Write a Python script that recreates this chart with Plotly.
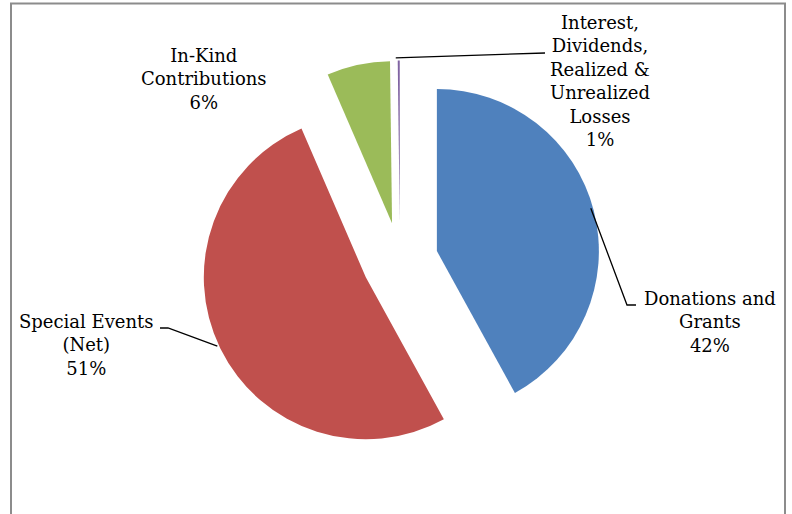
import math
import plotly.graph_objects as go

# ---- data ----
labels = ["Donations and Grants", "Special Events (Net)", "In-Kind Contributions",
          "Interest, Dividends, Realized & Unrealized Losses"]
values = [42.0, 51.5, 6.3, 0.2]
pct_labels = ["42%", "51%", "6%", "1%"]
label_lines = [["Donations and", "Grants"],
               ["Special Events", "(Net)"],
               ["In-Kind", "Contributions"],
               ["Interest,", "Dividends,", "Realized &", "Unrealized", "Losses"]]
colors = ["#4F81BD", "#C0504D", "#9BBB59", "#8064A2"]

# ---- layout geometry (pixels) ----
W, H = 792, 514
CX, CY = 400, 260.5
R = 162
PULL = 0.235
HALF = R * (1 + PULL)

def px(x):
    return x / W

def py(y):
    return 1 - y / H

fig = go.Figure(go.Pie(
    labels=labels, values=values, sort=False, direction="clockwise", rotation=0,
    marker=dict(colors=colors, line=dict(width=0)),
    pull=[PULL] * len(values), textinfo="none", hoverinfo="label+percent",
    showlegend=False,
    domain=dict(x=[px(CX - HALF), px(CX + HALF)], y=[py(CY + HALF), py(CY - HALF)]),
))

# bisector points on the outer arc of each (pulled) slice
total = sum(values)
cum = 0
arc_pts = []
for v in values:
    mid = (cum + v / 2) / total * 2 * math.pi
    cum += v
    d = (1 + PULL) * R
    arc_pts.append((CX - 3 + d * math.sin(mid), CY - 2.5 + d * math.cos(mid) * -1))

label_pos = [(710, 322), (86, 345), (204, 79), (600, 81)]
leader_mid = [[(627, 305), (636, 305)],
              [(168, 328), (160, 328)],
              [],
              [(545, 53)]]

annotations = []
for lines, pct, (lx, ly) in zip(label_lines, pct_labels, label_pos):
    annotations.append(dict(
        x=px(lx), y=py(ly), xref="paper", yref="paper", showarrow=False,
        text="<br>".join(lines + [pct]), align="center",
        xanchor="center", yanchor="middle",
        font=dict(family="DejaVu Serif", size=18, color="#000000")))

shapes = []
for start, pts in zip(arc_pts, leader_mid):
    if not pts:
        continue
    path_pts = [start] + pts
    path = "M " + " L ".join(f"{px(x):.5f},{py(y):.5f}" for x, y in path_pts)
    shapes.append(dict(type="path", path=path, xref="paper", yref="paper",
                       line=dict(color="#000000", width=1.3)))

# chart frame
shapes.append(dict(type="rect", xref="paper", yref="paper",
                   x0=px(11), x1=px(785), y0=py(530), y1=py(3.5),
                   line=dict(color="#8C8C8C", width=2), fillcolor="rgba(0,0,0,0)"))

fig.update_layout(width=W, height=H, margin=dict(l=0, r=0, t=0, b=0),
                  paper_bgcolor="white", plot_bgcolor="white",
                  annotations=annotations, shapes=shapes)

fig.write_html("out.html", config={"displayModeBar": False},
               post_script="document.body.style.margin='0';document.body.style.padding='0';")
